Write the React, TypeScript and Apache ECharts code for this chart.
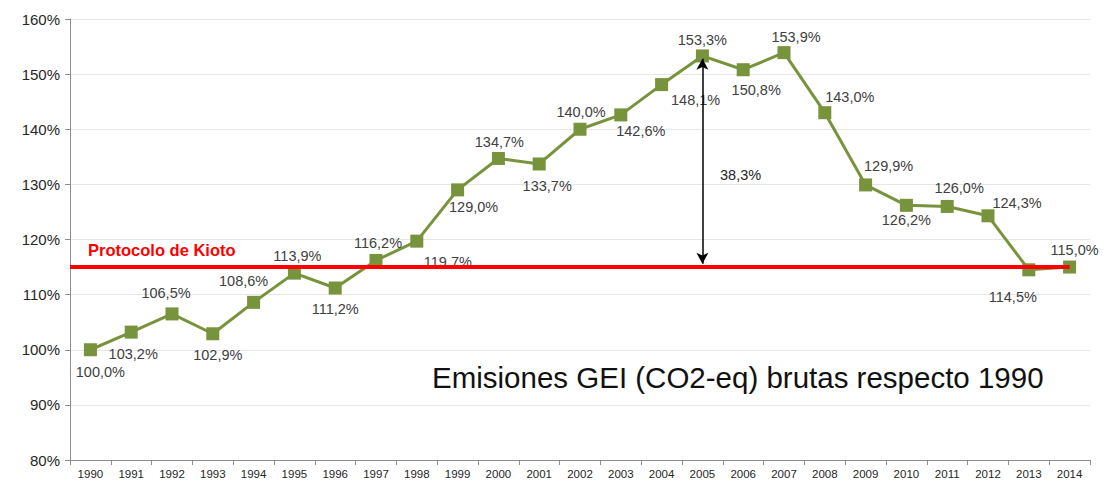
import React, { useEffect, useRef } from "react";
import * as echarts from "echarts";

const years = [
  "1990", "1991", "1992", "1993", "1994", "1995", "1996", "1997", "1998", "1999",
  "2000", "2001", "2002", "2003", "2004", "2005", "2006", "2007", "2008", "2009",
  "2010", "2011", "2012", "2013", "2014",
];

const emissions = [
  100.0, 103.2, 106.5, 102.9, 108.6, 113.9, 111.2, 116.2, 119.7, 129.0,
  134.7, 133.7, 140.0, 142.6, 148.1, 153.3, 150.8, 153.9, 143.0, 129.9,
  126.2, 126.0, 124.3, 114.5, 115.0,
];

const kiotoLevel = 115;
const arrowTop = 152.8;
const arrowBottom = 115.6;
const arrowYearIndex = 15;
const gapLabel = "38,3%";
const kiotoLabel = "Protocolo de Kioto";
const titleText = "Emisiones GEI (CO2-eq) brutas respecto 1990";

const yMin = 80;
const yMax = 160;
const yStep = 10;

// label placement offsets (styling only), [dx, dy] in px relative to the marker
const labelOffsets: [number, number][] = [
  [10, 22], [2, 22], [-6, -21], [5, 21], [-10, -21], [3, -17], [0, 21], [2, -17], [31, 21], [16, 17],
  [1, -16], [8, 22], [1, -17], [20, 16], [34, 15], [0, -16], [13, 20], [12, -16], [25, -16], [23, -19],
  [0, 15], [12, -18], [29, -13], [-16, 27], [5, -17],
];

const GRID_LEFT = 70;
const FONT = "'Liberation Sans', Arial, sans-serif";

const fmt = (v: number) => v.toFixed(1).replace(".", ",") + "%";

export default function App() {
  const ref = useRef<HTMLDivElement>(null);

  useEffect(() => {
    if (!ref.current) return;
    const chart = echarts.init(ref.current, null, { renderer: "svg" });

    const seriesData = emissions.map((v, i) => ({
      value: v,
      label: { offset: labelOffsets[i] },
    }));

    chart.setOption({
      animation: false,
      backgroundColor: "#ffffff",
      grid: {
        left: GRID_LEFT,
        right: 15,
        top: 19,
        bottom: 23,
        containLabel: false,
        outerBoundsMode: "none",
      },
      xAxis: {
        type: "category",
        data: years,
        boundaryGap: true,
        axisLine: { lineStyle: { color: "#8c8c8c", width: 1 } },
        axisTick: { show: true, length: 5, lineStyle: { color: "#8c8c8c" } },
        axisLabel: {
          color: "#262626",
          fontFamily: FONT,
          fontSize: 11.5,
          margin: 8,
          interval: 0,
        },
        splitLine: { show: false },
      },
      yAxis: {
        type: "value",
        min: yMin,
        max: yMax,
        interval: yStep,
        axisLine: { show: true, lineStyle: { color: "#8c8c8c", width: 1 } },
        axisTick: { show: true, length: 5, lineStyle: { color: "#8c8c8c" } },
        axisLabel: {
          color: "#262626",
          fontFamily: FONT,
          fontSize: 15,
          margin: 10,
          formatter: "{value}%",
        },
        splitLine: { show: true, lineStyle: { color: "#e6e6e6", width: 1 } },
      },
      series: [
        {
          type: "line",
          data: seriesData,
          symbol: "rect",
          symbolSize: 13,
          itemStyle: { color: "#77933C" },
          lineStyle: { color: "#77933C", width: 3 },
          label: {
            show: true,
            position: "inside",
            color: "#404040",
            fontFamily: FONT,
            fontSize: 14.5,
            formatter: (p: any) => fmt(p.value as number),
          },
          emphasis: { disabled: true },
          markLine: {
            silent: true,
            animation: false,
            label: { show: false },
            emphasis: { disabled: true },
            data: [
              [
                {
                  x: GRID_LEFT,
                  yAxis: kiotoLevel,
                  symbol: "none",
                  lineStyle: { color: "#FF0000", width: 4, type: "solid" },
                },
                { coord: [years.length - 1, kiotoLevel], symbol: "none" },
              ],
              [
                {
                  coord: [arrowYearIndex, arrowTop],
                  symbol: "arrow",
                  symbolSize: [9, 11],
                  lineStyle: { color: "#000000", width: 1.5, type: "solid" },
                },
                {
                  coord: [arrowYearIndex, arrowBottom],
                  symbol: "arrow",
                  symbolSize: [9, 11],
                },
              ],
            ],
          },
        },
      ],
      graphic: [
        {
          type: "text",
          x: 88,
          y: 250,
          z: 10,
          style: {
            text: kiotoLabel,
            fill: "#FF0000",
            font: `bold 16.5px ${FONT}`,
            verticalAlign: "middle",
            align: "left",
          },
        },
        {
          type: "text",
          x: 720,
          y: 175,
          z: 10,
          style: {
            text: gapLabel,
            fill: "#262626",
            font: `14.5px ${FONT}`,
            verticalAlign: "middle",
            align: "left",
          },
        },
        {
          type: "text",
          x: 432,
          y: 377,
          z: 10,
          style: {
            text: titleText,
            fill: "#111111",
            font: `29.5px ${FONT}`,
            verticalAlign: "middle",
            align: "left",
          },
        },
      ],
    });

    return () => {
      chart.dispose();
    };
  }, []);

  return (
    <div
      ref={ref}
      style={{ position: "fixed", left: 0, top: 0, width: 1105, height: 483 }}
    />
  );
}
